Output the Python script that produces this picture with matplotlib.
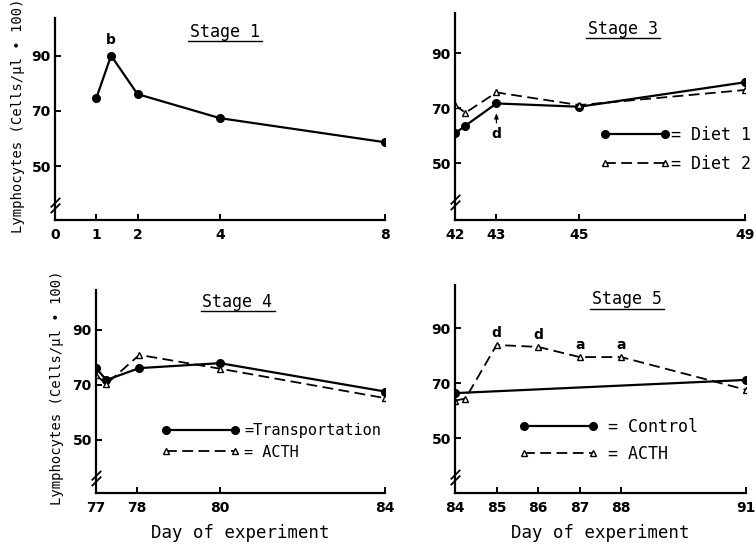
import matplotlib
matplotlib.use('Agg')
import matplotlib.pyplot as plt
from matplotlib.path import Path
from matplotlib.lines import Line2D

# ---- data ----
s1_days = [1, 1.36, 2, 4, 8]
s1_lym = [74.6, 90.0, 76.1, 67.4, 58.7]

s3_days = [42, 42.25, 43, 45, 49]
s3_diet1 = [60.9, 63.7, 71.8, 70.6, 79.5]
s3_diet2 = [71.2, 68.4, 75.8, 71.2, 76.7]

s4_days = [77, 77.25, 78.05, 80, 84]
s4_transport = [76.1, 71.8, 76.1, 77.9, 67.6]
s4_acth = [73.6, 70.3, 80.9, 75.9, 65.2]

s5_ctrl_days = [84, 91]
s5_ctrl = [66.4, 71.2]
s5_acth_days = [84, 84.25, 85, 86, 87, 88, 91]
s5_acth = [63.7, 64.4, 83.9, 83.2, 79.5, 79.5, 67.6]

ticks1 = [0, 1, 2, 4, 8]
ticks3 = [42, 43, 45, 49]
ticks4 = [77, 78, 80, 84]
ticks5 = [84, 85, 86, 87, 88, 91]
yticks = [50, 70, 90]

W, H = 756, 545
MONO = 'DejaVu Sans Mono'
SANS = 'DejaVu Sans'

fig = plt.figure(figsize=(W / 100, H / 100), dpi=100)


def box(l, r, t, b):
    return [l / W, 1 - b / H, (r - l) / W, (b - t) / H]


def fx(px):
    return px / W


def fy(py):
    return 1 - py / H


brk = Path([(-1, -1.6), (1, 0.4), (-1, -0.4), (1, 1.6)],
           [Path.MOVETO, Path.LINETO, Path.MOVETO, Path.LINETO])


def setup(ax, xlim, ylim, xticks):
    ax.set_xlim(*xlim)
    ax.set_ylim(*ylim)
    for s in ['top', 'right']:
        ax.spines[s].set_visible(False)
    for s in ['left', 'bottom']:
        ax.spines[s].set_linewidth(1.6)
    ax.set_xticks(xticks)
    ax.set_yticks(yticks)
    ax.tick_params(direction='in', length=4, width=1.4, labelsize=10)
    ax.tick_params(axis='x', pad=6)
    ax.tick_params(axis='y', pad=3)
    for lab in ax.get_xticklabels() + ax.get_yticklabels():
        lab.set_fontfamily(SANS)
        lab.set_fontweight('bold')
    ax.patch.set_alpha(0)
    # axis break mark on the y axis
    ax.plot([xlim[0]], [36], marker=brk, markersize=11, mew=1.3,
            color='black', clip_on=False, linestyle='none')


def title(cx, cy, uy, txt):
    fig.text(fx(cx), fy(cy), txt, family=MONO, fontsize=12,
             ha='center', va='center')
    fig.add_artist(Line2D([fx(cx - 37), fx(cx + 37)], [fy(uy), fy(uy)],
                          color='black', lw=1.0))


solid = dict(color='black', lw=1.6, marker='o', markersize=5.5)
dashed = dict(color='black', lw=1.3, dashes=(6, 3), marker='^',
              markersize=4.5, markerfacecolor='white', markeredgewidth=1.0)

# ---- Stage 1 ----
ax1 = fig.add_axes(box(55, 385, 18, 220))
setup(ax1, (0, 8), (30.6, 103.6), ticks1)
ax1.plot(s1_days, s1_lym, **solid)
ax1.annotate('b', xy=(s1_days[1], s1_lym[1]), xytext=(0, 6),
             textcoords='offset points', ha='center', va='bottom',
             family=SANS, fontweight='bold', fontsize=10)
title(225, 31.7, 40.7, 'Stage 1')

# ---- Stage 3 ----
ax2 = fig.add_axes(box(455, 745, 13, 220))
setup(ax2, (42, 49), (29.4, 104.7), ticks3)
l1, = ax2.plot(s3_days, s3_diet1, **solid)
l2, = ax2.plot(s3_days, s3_diet2, **dashed)
ax2.annotate('d', xy=(s3_days[2], s3_diet1[2]), xytext=(0, -17),
             textcoords='offset points', ha='center', va='top',
             family=SANS, fontweight='bold', fontsize=10,
             arrowprops=dict(arrowstyle='-|>,head_length=0.3,head_width=0.12',
                             color='black', lw=0.9, shrinkA=1, shrinkB=7))
ax2.legend([l1, l2], ['= Diet 1', '= Diet 2'], numpoints=2, handlelength=4.2,
           handletextpad=0.05, labelspacing=0.62, frameon=False,
           loc='upper left', bbox_to_anchor=(0.5, 0.453), borderpad=0,
           borderaxespad=0, prop={'family': MONO, 'size': 12})
title(623, 29.3, 38.3, 'Stage 3')

# ---- Stage 4 ----
ax3 = fig.add_axes(box(96, 385, 290, 493))
setup(ax3, (77, 84), (30.7, 104.5), ticks4)
l3, = ax3.plot(s4_days, s4_transport, **solid)
l4, = ax3.plot(s4_days, s4_acth, **dashed)
ax3.legend([l3, l4], ['=Transportation', '= ACTH'], numpoints=2,
           handlelength=5.1, handletextpad=0.3, labelspacing=0.45,
           frameon=False, loc='upper left', bbox_to_anchor=(0.228, 0.345),
           borderpad=0, borderaxespad=0, prop={'family': MONO, 'size': 11})
ax3.set_xlabel('Day of experiment', family=MONO, fontsize=12.5, labelpad=6)
title(237.5, 301.7, 310.7, 'Stage 4')

# ---- Stage 5 ----
ax4 = fig.add_axes(box(455, 746, 285, 493))
setup(ax4, (84, 91), (30.1, 105.7), ticks5)
l5, = ax4.plot(s5_ctrl_days, s5_ctrl, **solid)
l6, = ax4.plot(s5_acth_days, s5_acth, **dashed)
for d, v, t in zip(s5_acth_days[2:6], s5_acth[2:6], ['d', 'd', 'a', 'a']):
    ax4.annotate(t, xy=(d, v), xytext=(0, 6), textcoords='offset points',
                 ha='center', va='baseline', family=SANS,
                 fontweight='bold', fontsize=10)
ax4.legend([l5, l6], ['= Control', '= ACTH'], numpoints=2,
           handlelength=4.76, handletextpad=0.6, labelspacing=0.55,
           frameon=False, loc='upper left', bbox_to_anchor=(0.219, 0.36),
           borderpad=0, borderaxespad=0, prop={'family': MONO, 'size': 12})
ax4.set_xlabel('Day of experiment', family=MONO, fontsize=12.5, labelpad=6)
title(627, 299.3, 309, 'Stage 5')

# y labels
ylab = 'Lymphocytes (Cells/\u00b5l \u2022 100)'
fig.text(fx(18), fy(116), ylab, rotation=90, family=MONO, fontsize=10,
         ha='center', va='center')
fig.text(fx(57), fy(388), ylab, rotation=90, family=MONO, fontsize=10,
         ha='center', va='center')

fig.savefig('out.png', dpi=100)
